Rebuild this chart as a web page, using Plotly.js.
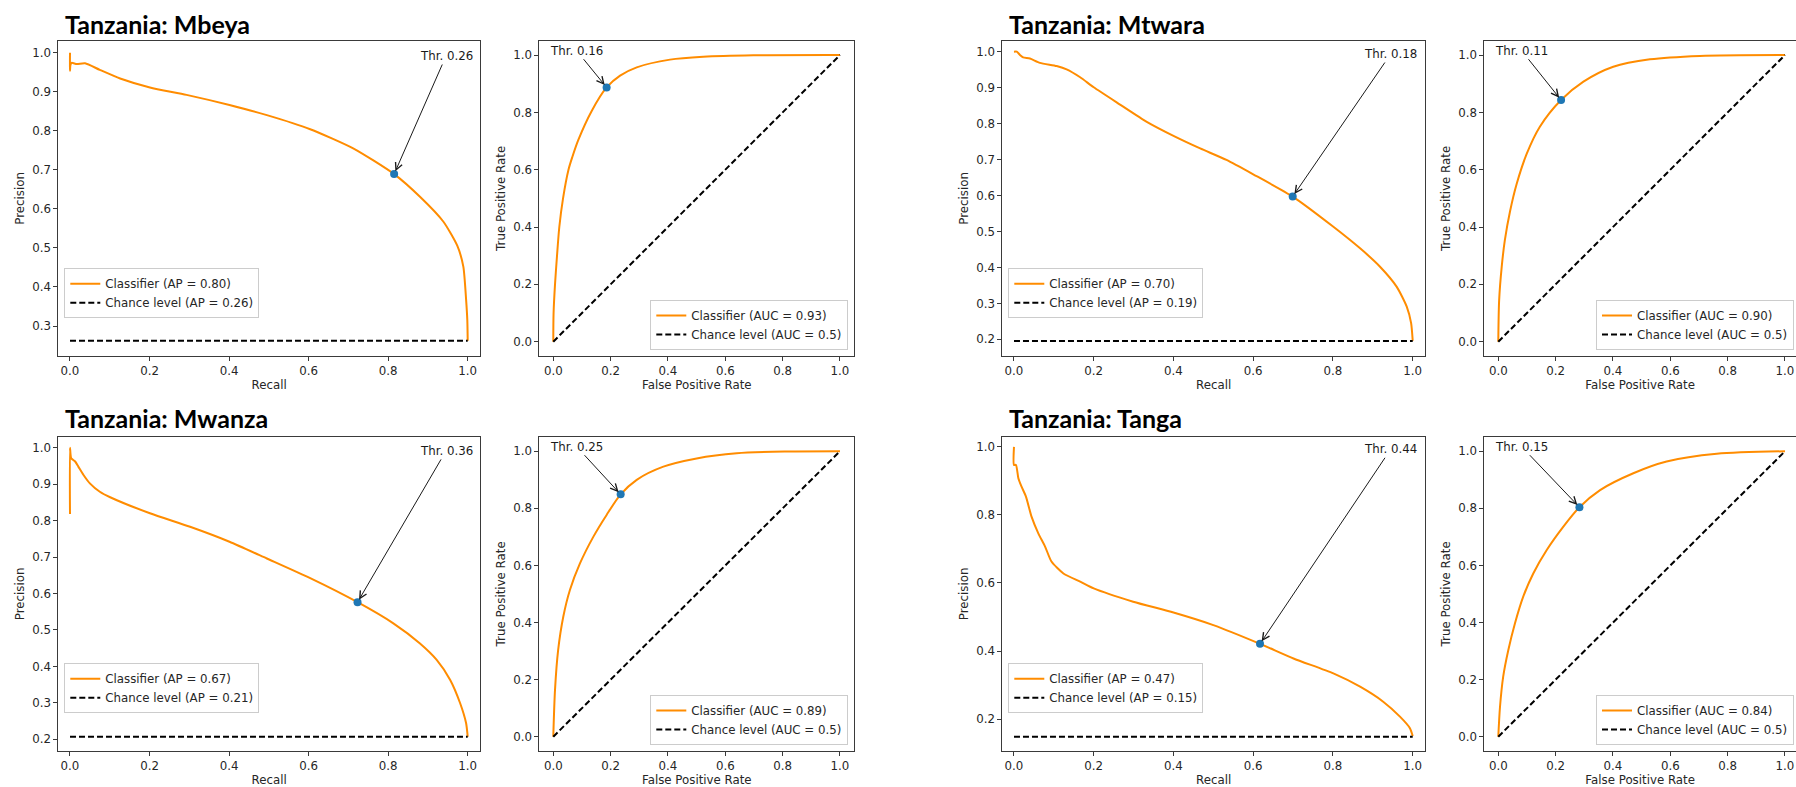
<!DOCTYPE html>
<html>
<head>
<meta charset="utf-8">
<script src="https://cdn.plot.ly/plotly-3.0.1.min.js"></script>
<style>
html, body { margin: 0; padding: 0; background: #ffffff; }
#chart { width: 1796px; height: 787px; }
</style>
</head>
<body>
<div id="chart"></div>
<script>
// ---------------- DATA ----------------
const regions = ['Mbeya', 'Mtwara', 'Mwanza', 'Tanga'];

// Precision-recall curves
const mbeyaRecall    = [0, 0, 0.001, 0.004, 0.017, 0.038, 0.075, 0.126, 0.201, 0.293, 0.401, 0.495, 0.604, 0.712, 0.815, 0.880, 0.939, 0.974, 0.989, 0.996, 0.999, 1.0];
const mbeyaPrecision = [1.0, 0.954, 0.968, 0.974, 0.971, 0.973, 0.956, 0.934, 0.911, 0.892, 0.866, 0.840, 0.804, 0.755, 0.689, 0.631, 0.567, 0.505, 0.452, 0.367, 0.315, 0.262];

const mtwaraRecall    = [0, 0.007, 0.015, 0.023, 0.04, 0.065, 0.107, 0.132, 0.166, 0.2, 0.266, 0.333, 0.4, 0.467, 0.533, 0.6, 0.699, 0.801, 0.868, 0.918, 0.96, 0.985, 0.996, 1.0];
const mtwaraPrecision = [1.0, 1.0, 0.991, 0.984, 0.981, 0.969, 0.96, 0.951, 0.929, 0.901, 0.853, 0.805, 0.766, 0.731, 0.699, 0.659, 0.597, 0.513, 0.453, 0.402, 0.346, 0.291, 0.245, 0.196];

const mwanzaRecall    = [0, 0, 0.003, 0.013, 0.021, 0.034, 0.05, 0.075, 0.101, 0.201, 0.302, 0.401, 0.495, 0.604, 0.723, 0.813, 0.88, 0.922, 0.956, 0.981, 0.996, 1.0];
const mwanzaPrecision = [0.818, 1.0, 0.971, 0.962, 0.948, 0.925, 0.902, 0.879, 0.864, 0.82, 0.783, 0.742, 0.696, 0.642, 0.576, 0.518, 0.463, 0.418, 0.363, 0.299, 0.244, 0.207];

const tangaRecall    = [0, 0, 0.005, 0.011, 0.019, 0.03, 0.044, 0.061, 0.078, 0.094, 0.124, 0.166, 0.2, 0.299, 0.4, 0.5, 0.617, 0.701, 0.801, 0.868, 0.926, 0.968, 0.993, 1.0];
const tangaPrecision = [1.0, 0.947, 0.947, 0.908, 0.883, 0.854, 0.795, 0.746, 0.707, 0.663, 0.628, 0.604, 0.584, 0.545, 0.513, 0.476, 0.421, 0.378, 0.334, 0.295, 0.251, 0.207, 0.173, 0.15];

// ROC curves
const mbeyaFpr  = [0, 0.001, 0.006, 0.013, 0.021, 0.034, 0.053, 0.066, 0.087, 0.134, 0.186, 0.233, 0.291, 0.407, 0.523, 0.698, 1.0];
const mbeyaTpr  = [0, 0.1, 0.2, 0.3, 0.4, 0.5, 0.6, 0.643, 0.703, 0.805, 0.887, 0.928, 0.957, 0.984, 0.994, 0.999, 1.0];
const mtwaraFpr = [0, 0.003, 0.012, 0.023, 0.041, 0.064, 0.099, 0.145, 0.219, 0.297, 0.401, 0.529, 0.703, 1.0];
const mtwaraTpr = [0, 0.145, 0.262, 0.355, 0.455, 0.55, 0.655, 0.75, 0.843, 0.907, 0.959, 0.985, 0.997, 1.0];
const mwanzaFpr = [0, 0.006, 0.017, 0.035, 0.058, 0.093, 0.14, 0.186, 0.235, 0.291, 0.384, 0.5, 0.64, 0.814, 1.0];
const mwanzaTpr = [0, 0.164, 0.304, 0.421, 0.514, 0.607, 0.701, 0.777, 0.849, 0.9, 0.946, 0.975, 0.993, 0.999, 1.0];
const tangaFpr  = [0, 0.006, 0.017, 0.035, 0.058, 0.087, 0.122, 0.169, 0.227, 0.283, 0.355, 0.471, 0.587, 0.762, 1.0];
const tangaTpr  = [0, 0.105, 0.21, 0.304, 0.397, 0.491, 0.572, 0.654, 0.736, 0.804, 0.864, 0.923, 0.964, 0.991, 1.0];

// Chance levels (PR: prevalence; ROC: diagonal)
const prChance      = [0.262, 0.195, 0.207, 0.148];
const apValues      = ['0.80', '0.70', '0.67', '0.47'];
const apChance      = ['0.26', '0.19', '0.21', '0.15'];
const aucValues     = ['0.93', '0.90', '0.89', '0.84'];
const aucChance     = '0.5';
const rocChanceX    = [0, 1];
const rocChanceY    = [0, 1];

// Thresholds and operating points
const prThreshold   = ['0.26', '0.18', '0.36', '0.44'];
const prPointRecall = [0.815, 0.699, 0.723, 0.617];
const prPointPrec   = [0.689, 0.597, 0.576, 0.421];
const rocThreshold  = ['0.16', '0.11', '0.25', '0.15'];
const rocPointFpr   = [0.186, 0.219, 0.235, 0.283];
const rocPointTpr   = [0.887, 0.843, 0.849, 0.804];

// ---------------- LAYOUT (pixels) ----------------
const W = 1796, H = 787;
const prCurves  = [[mbeyaRecall, mbeyaPrecision], [mtwaraRecall, mtwaraPrecision], [mwanzaRecall, mwanzaPrecision], [tangaRecall, tangaPrecision]];
const rocCurves = [[mbeyaFpr, mbeyaTpr], [mtwaraFpr, mtwaraTpr], [mwanzaFpr, mwanzaTpr], [tangaFpr, tangaTpr]];

const colL = [[58.3, 480], [1002.3, 1425]];
const colR = [[539.3, 854.3], [1484.3, 1796]];
const rowY = [[40.7, 356], [436.7, 751]];
const prXRange  = [[-0.0294, 1.0309], [-0.0293, 1.0308]];
const rocXRange = [[-0.0488, 1.05], [-0.0488, 1.0384]];
const prYRange  = [[0.2232, 1.0307], [0.1536, 1.0306], [0.168, 1.030], [0.106, 1.030]];
const rocYRange = [[-0.05, 1.05], [-0.05, 1.05], [-0.05, 1.051], [-0.05, 1.051]];
const prYDtick  = [0.1, 0.1, 0.1, 0.2];
const titleX = [63, 1006.7];
const titleY = [24, 418];
const prLegend  = [[64.3, 318.3], [1008.3, 318.3], [64.3, 713.3], [1008.3, 713.3]];
const rocLegend = [[848.3, 350], [1794, 350], [848.3, 745], [1794, 745]];
const prTextPos  = [[0.9454, 0.9915], [0.9448, 0.9936], [0.9454, 0.991], [0.9448, 0.993]];
const rocTextPos = [[0.0816, 1.015], [0.0816, 1.015], [0.0816, 1.016], [0.0816, 1.016]];

const ORANGE = '#ff8c00', BLUE = '#1f77b4', INK = '#1a1a1a';
const tickFont = {family: 'DejaVu Sans', size: 11.8, color: '#262626'};

const traces = [];
const layout = {
  width: W, height: H,
  margin: {l: 0, r: 0, t: 0, b: 0},
  paper_bgcolor: '#ffffff', plot_bgcolor: '#ffffff',
  showlegend: true,
  annotations: [],
  font: {family: 'DejaVu Sans', size: 11.8, color: '#262626'}
};

function sid(i) { return i === 0 ? '' : String(i + 1); }

function axis(domain, range, dtick, title, standoff, anchor) {
  return {
    domain: domain, range: range, dtick: dtick, tick0: 0, tickformat: '.1f',
    anchor: anchor,
    showgrid: false, zeroline: false, showline: true, mirror: true,
    linecolor: '#3a3a3a', linewidth: 1,
    ticks: 'outside', ticklen: 4, tickwidth: 1, tickcolor: '#3a3a3a',
    tickfont: tickFont, fixedrange: true,
    title: {text: title, font: tickFont, standoff: standoff}
  };
}

function legendCfg(px, py, xanchor) {
  return {
    x: px / W, y: 1 - py / H, xref: 'paper', yref: 'paper',
    xanchor: xanchor, yanchor: 'bottom',
    bgcolor: 'rgba(255,255,255,0.85)', bordercolor: '#cccccc', borderwidth: 1,
    font: tickFont, tracegroupgap: 0, itemwidth: 30
  };
}

for (let r = 0; r < 4; r++) {
  const row = Math.floor(r / 2), col = r % 2;
  const ipr = 2 * r, iroc = 2 * r + 1;
  const yDom = [1 - rowY[row][1] / H, 1 - rowY[row][0] / H];

  // ---- PR subplot ----
  const s1 = sid(ipr);
  layout['xaxis' + s1] = axis([colL[col][0] / W, colL[col][1] / W], prXRange[col], 0.2, 'Recall', 3, 'y' + s1);
  layout['yaxis' + s1] = axis(yDom, prYRange[r], prYDtick[r], 'Precision', 5, 'x' + s1);
  const lg1 = 'legend' + s1;
  layout[lg1] = legendCfg(prLegend[r][0], prLegend[r][1], 'left');
  traces.push({
    type: 'scatter', mode: 'lines', x: prCurves[r][0], y: prCurves[r][1],
    xaxis: 'x' + s1, yaxis: 'y' + s1, legend: lg1,
    name: 'Classifier (AP = ' + apValues[r] + ')',
    line: {color: ORANGE, width: 2, shape: 'spline', smoothing: 0.6}, hoverinfo: 'skip'
  });
  traces.push({
    type: 'scatter', mode: 'lines', x: [0, 1], y: [prChance[r], prChance[r]],
    xaxis: 'x' + s1, yaxis: 'y' + s1, legend: lg1,
    name: 'Chance level (AP = ' + apChance[r] + ')',
    line: {color: '#000000', width: 2, dash: '6px,3px'}, hoverinfo: 'skip'
  });
  traces.push({
    type: 'scatter', mode: 'markers', x: [prPointRecall[r]], y: [prPointPrec[r]],
    xaxis: 'x' + s1, yaxis: 'y' + s1, showlegend: false,
    marker: {color: BLUE, size: 8}, hoverinfo: 'skip'
  });
  layout.annotations.push({
    xref: 'x' + s1, yref: 'y' + s1, axref: 'x' + s1, ayref: 'y' + s1,
    x: prPointRecall[r], y: prPointPrec[r], ax: prTextPos[r][0], ay: prTextPos[r][1],
    text: 'Thr. ' + prThreshold[r], font: {family: 'DejaVu Sans', size: 11.8, color: INK},
    showarrow: true, arrowhead: 5, arrowsize: 1.4, arrowwidth: 1, arrowcolor: INK, standoff: 3
  });

  // ---- ROC subplot ----
  const s2 = sid(iroc);
  layout['xaxis' + s2] = axis([colR[col][0] / W, colR[col][1] / W], rocXRange[col], 0.2, 'False Positive Rate', 3, 'y' + s2);
  layout['yaxis' + s2] = axis(yDom, rocYRange[r], 0.2, 'True Positive Rate', 5, 'x' + s2);
  const lg2 = 'legend' + s2;
  layout[lg2] = legendCfg(rocLegend[r][0], rocLegend[r][1], 'right');
  traces.push({
    type: 'scatter', mode: 'lines', x: rocCurves[r][0], y: rocCurves[r][1],
    xaxis: 'x' + s2, yaxis: 'y' + s2, legend: lg2,
    name: 'Classifier (AUC = ' + aucValues[r] + ')',
    line: {color: ORANGE, width: 2, shape: 'spline', smoothing: 0.8}, hoverinfo: 'skip'
  });
  traces.push({
    type: 'scatter', mode: 'lines', x: rocChanceX, y: rocChanceY,
    xaxis: 'x' + s2, yaxis: 'y' + s2, legend: lg2,
    name: 'Chance level (AUC = ' + aucChance + ')',
    line: {color: '#000000', width: 2, dash: '6px,3px'}, hoverinfo: 'skip'
  });
  traces.push({
    type: 'scatter', mode: 'markers', x: [rocPointFpr[r]], y: [rocPointTpr[r]],
    xaxis: 'x' + s2, yaxis: 'y' + s2, showlegend: false,
    marker: {color: BLUE, size: 8}, hoverinfo: 'skip'
  });
  layout.annotations.push({
    xref: 'x' + s2, yref: 'y' + s2, axref: 'x' + s2, ayref: 'y' + s2,
    x: rocPointFpr[r], y: rocPointTpr[r], ax: rocTextPos[r][0], ay: rocTextPos[r][1],
    text: 'Thr. ' + rocThreshold[r], font: {family: 'DejaVu Sans', size: 11.8, color: INK},
    showarrow: true, arrowhead: 5, arrowsize: 1.4, arrowwidth: 1, arrowcolor: INK, standoff: 3
  });

  // ---- region heading ----
  layout.annotations.push({
    xref: 'paper', yref: 'paper', x: titleX[col] / W, y: 1 - titleY[row] / H,
    xanchor: 'left', yanchor: 'middle', showarrow: false,
    text: '<b>Tanzania: ' + regions[r] + '</b>',
    font: {family: 'Lato', size: 25, color: '#000000'}
  });
}

Plotly.newPlot('chart', traces, layout, {staticPlot: true, displayModeBar: false});
</script>
</body>
</html>
